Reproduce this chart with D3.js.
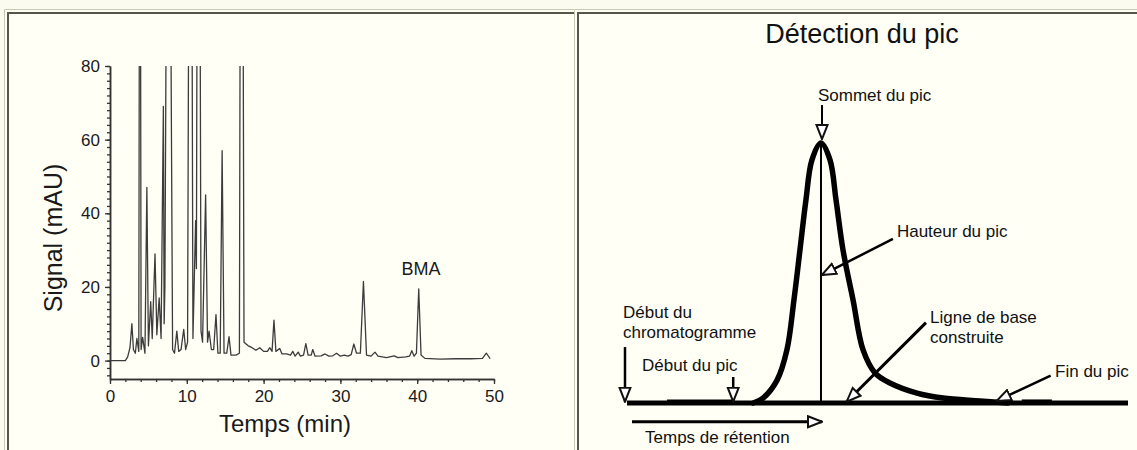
<!DOCTYPE html>
<html>
<head>
<meta charset="utf-8">
<script src="https://cdn.jsdelivr.net/npm/d3@7"></script>
<style>
  body { margin: 0; background: #fbfbef; }
  svg { display: block; font-family: 'Liberation Sans', Arial, sans-serif; }
</style>
</head>
<body>
<svg id="chart" width="1137" height="450"></svg>
<script>
// ---- left panel: chromatogram, [time (min), signal (mAU)] ----
const chromatogram = [
  [0, 0], [2.0, 0], [2.3, 1.0], [2.6, 3.5], [2.85, 10], [3.05, 3], [3.3, 2], [3.5, 6], [3.75, 2.5],
  [3.9, 200], [4.05, 3], [4.25, 6.3], [4.55, 2], [4.8, 47], [5.0, 4], [5.3, 16], [5.5, 6], [5.86, 29],
  [6.1, 7], [6.4, 17], [6.65, 6], [6.95, 69], [7.05, 10], [7.15, 20], [7.55, 200], [7.65, 200],
  [8.15, 3], [8.4, 2], [8.7, 8], [8.95, 2.5], [9.25, 3], [9.6, 8.5], [9.85, 3], [10.1, 5],
  [10.4, 200], [10.55, 200], [10.8, 6], [11.15, 38], [11.25, 25], [11.45, 200], [11.6, 200],
  [11.85, 8], [12.05, 5], [12.45, 45], [12.7, 5], [12.9, 8], [13.2, 3], [13.5, 3], [13.8, 12.5],
  [14.05, 2], [14.35, 2], [14.6, 57], [14.85, 2], [15.2, 2], [15.5, 6.5], [15.75, 1.5], [16.4, 1.5],
  [16.85, 2], [17.05, 200], [17.2, 200], [17.45, 5], [18.0, 4], [18.5, 3.5], [19.0, 2.8], [19.5, 3.5],
  [20.0, 2.5], [20.5, 2.5], [20.8, 3.5], [21.1, 2.5], [21.35, 11], [21.6, 2.5], [22.1, 3.3], [22.4, 1.8],
  [23.0, 1.8], [23.5, 1.5], [23.8, 2.5], [24.1, 1.2], [24.5, 2.3], [24.8, 1.2], [25.2, 1.5], [25.5, 4.6],
  [25.8, 1.5], [26.2, 1.5], [26.4, 3], [26.7, 1.2], [27.5, 1.3], [28.0, 1.8], [28.5, 1.2], [29.0, 1.3],
  [29.5, 2], [30.0, 1.2], [30.5, 1.5], [31.0, 1.2], [31.4, 1.6], [31.75, 4.5], [32.1, 2], [32.6, 2],
  [33.0, 21.5], [33.4, 1.5], [34.0, 1.2], [34.5, 2.3], [34.9, 1.2], [36.0, 0.8], [37.0, 1.3], [37.5, 0.8],
  [38.5, 1], [39.0, 1.2], [39.3, 2.7], [39.6, 1.2], [39.9, 2], [40.2, 19.5], [40.5, 1.5], [41.0, 0.6],
  [43.0, 0.4], [45.0, 0.5], [47.0, 0.5], [48.5, 0.6], [49.0, 2], [49.5, 0.5]
];
const xTicks = [0, 10, 20, 30, 40, 50];
const yTicks = [0, 20, 40, 60, 80];
const peakName = 'BMA';
const peakNamePos = [40.5, 23.2];

// ---- right panel: peak detection sketch, [time, % of peak height] ----
const peakCurve = [
  [6.3, 0], [6.79, 1.9], [7.49, 8.8], [7.98, 20.4], [8.33, 39.6], [8.63, 58.8], [8.93, 78.1],
  [9.23, 93.5], [9.68, 100], [10.13, 93.5], [10.43, 78.1], [10.78, 58.8], [11.28, 39.6],
  [11.78, 20.4], [12.38, 11.5], [13.12, 7.7], [14.47, 3.8], [15.77, 1.9], [17.61, 0.8], [19.0, 0]
];
const baseTraces = [
  [[2.0, 0.6], [5.3, 0.6]],
  [[19.7, 0.6], [21.2, 0.6]]
];
const apex = [9.68, 100];
const annotations = [
  { lines: ['Début du', 'chromatogramme'], at: [-0.2, 32.7], from: [-0.1, 21.5], to: [-0.1, 0.5], w: 2.5 },
  { lines: ['Début du pic'], at: [0.75, 12.3], from: [5.3, 10], to: [5.3, 0.5], w: 2.5 },
  { lines: ['Sommet du pic'], at: [9.53, 116.2], from: [9.73, 114.6], to: [9.73, 101.5], w: 2 },
  { lines: ['Hauteur du pic'], at: [13.47, 63.8], from: [13.27, 63.1], to: [9.72, 49.2], w: 2.5 },
  { lines: ['Ligne de base', 'construite'], at: [15.12, 30.8], from: [14.92, 30.9], to: [10.96, 0.5], w: 3 },
  { lines: ['Fin du pic'], at: [21.36, 10], from: [21.14, 10.5], to: [18.45, 0.8], w: 2.5 },
  { lines: ['Temps de rétention'], at: [0.9, -15.4], from: [0.25, -7.2], to: [9.73, -7.2], w: 3 }
];

const svg = d3.select('#chart');

// panel frames
function drawFrame(x0, x1) {
  svg.append('rect').attr('x', x0).attr('y', 9).attr('width', x1 - x0).attr('height', 441).attr('fill', '#fffff6');
  svg.append('path').attr('d', `M${x0 + 0.5},450V9.5H${x1}`).attr('fill', 'none').attr('stroke', '#c8c8b2');
  svg.append('path').attr('d', `M${x0 + 4},450V13H${x1}`).attr('fill', 'none').attr('stroke', '#56564a').attr('stroke-width', 2);
}
drawFrame(4, 574);
drawFrame(574, 1137);

// ---------- left chart ----------
const x1 = d3.scaleLinear().domain([0, 50]).range([110, 494]);
const y1 = d3.scaleLinear().domain([-5, 80]).range([379, 66]);
const left = svg.append('g');

left.append('g')
  .attr('transform', 'translate(0,379)')
  .call(d3.axisBottom(x1).tickValues(d3.range(0, 51, 2)).tickSize(3).tickSizeOuter(0).tickFormat(''));
left.append('g')
  .attr('transform', 'translate(0,379)')
  .attr('class', 'x axis')
  .call(d3.axisBottom(x1).tickValues(xTicks).tickSize(5).tickSizeOuter(0).tickPadding(6));

left.append('g')
  .attr('transform', 'translate(110,0)')
  .call(d3.axisLeft(y1).tickValues(d3.range(-4, 81, 2)).tickSize(3).tickSizeOuter(0).tickFormat(''));
left.append('g')
  .attr('transform', 'translate(110,0)')
  .attr('class', 'y axis')
  .call(d3.axisLeft(y1).tickValues(yTicks).tickSize(5).tickSizeOuter(0).tickPadding(5));

left.selectAll('.domain').attr('stroke', '#333').attr('stroke-width', 1.5);
left.selectAll('.tick line').attr('stroke', '#333').attr('stroke-width', 1.3);
left.selectAll('.tick text').attr('fill', '#1a1a1a').style('font-size', '17px').style('font-family', 'Liberation Sans, Arial, sans-serif');

svg.append('clipPath').attr('id', 'plotClip')
  .append('rect').attr('x', x1(0) - 2).attr('y', y1(80)).attr('width', x1(50) - x1(0) + 4).attr('height', y1(-5) - y1(80));

left.append('path')
  .datum(chromatogram)
  .attr('clip-path', 'url(#plotClip)')
  .attr('fill', 'none')
  .attr('stroke', '#3c3c3c')
  .attr('stroke-width', 1.3)
  .attr('stroke-linejoin', 'round')
  .attr('d', d3.line().x(d => x1(d[0])).y(d => y1(d[1])));

left.append('text')
  .attr('x', x1(peakNamePos[0])).attr('y', y1(peakNamePos[1]))
  .attr('text-anchor', 'middle').attr('fill', '#1a1a1a').style('font-size', '18px')
  .text(peakName);

left.append('text')
  .attr('x', 285).attr('y', 432)
  .attr('text-anchor', 'middle').attr('fill', '#1a1a1a').style('font-size', '24px')
  .text('Temps (min)');

left.append('text')
  .attr('transform', 'translate(62,238) rotate(-90)')
  .attr('text-anchor', 'middle').attr('fill', '#1a1a1a').style('font-size', '25px')
  .text('Signal (mAU)');

// ---------- right sketch ----------
const x2 = d3.scaleLinear().domain([0, 25]).range([627, 1128]);
const y2 = d3.scaleLinear().domain([0, 100]).range([403, 143]);
const right = svg.append('g');

svg.append('defs').append('marker')
  .attr('id', 'head')
  .attr('viewBox', '-1 -7 16 14')
  .attr('refX', 14).attr('refY', 0)
  .attr('markerWidth', 16).attr('markerHeight', 14)
  .attr('markerUnits', 'userSpaceOnUse')
  .attr('orient', 'auto')
  .append('path')
  .attr('d', 'M0,-5.5L14,0L0,5.5Z')
  .attr('fill', '#fff').attr('stroke', '#111').attr('stroke-width', 2);

right.append('text')
  .attr('x', 862).attr('y', 43)
  .attr('text-anchor', 'middle').attr('fill', '#111').style('font-size', '27px')
  .text('Détection du pic');

const line2 = d3.line().x(d => x2(d[0])).y(d => y2(d[1]));

right.append('path')
  .datum([[0, 0], [25, 0]])
  .attr('stroke', '#000').attr('stroke-width', 5).attr('d', line2);

baseTraces.forEach(tr => {
  right.append('path').datum(tr)
    .attr('stroke', '#000').attr('stroke-width', 4).attr('d', line2);
});

right.append('path')
  .datum([apex, [apex[0], 0]])
  .attr('stroke', '#000').attr('stroke-width', 2).attr('d', line2);

right.append('path')
  .datum(peakCurve)
  .attr('fill', 'none').attr('stroke', '#000').attr('stroke-width', 5.5)
  .attr('stroke-linejoin', 'round').attr('stroke-linecap', 'round')
  .attr('d', line2.curve(d3.curveCatmullRom));

const ann = right.selectAll('.ann').data(annotations).join('g').attr('class', 'ann');

ann.append('line')
  .attr('x1', d => x2(d.from[0])).attr('y1', d => y2(d.from[1]))
  .attr('x2', d => x2(d.to[0])).attr('y2', d => y2(d.to[1]))
  .attr('stroke', '#000').attr('stroke-width', d => d.w)
  .attr('marker-end', 'url(#head)');

ann.append('text')
  .attr('x', d => x2(d.at[0])).attr('y', d => y2(d.at[1]))
  .attr('fill', '#111').style('font-size', '17px')
  .selectAll('tspan').data(d => d.lines.map((l, i) => ({ l, i, x: x2(d.at[0]) }))).join('tspan')
  .attr('x', d => d.x).attr('dy', d => d.i === 0 ? 0 : 20)
  .text(d => d.l);
</script>
</body>
</html>
